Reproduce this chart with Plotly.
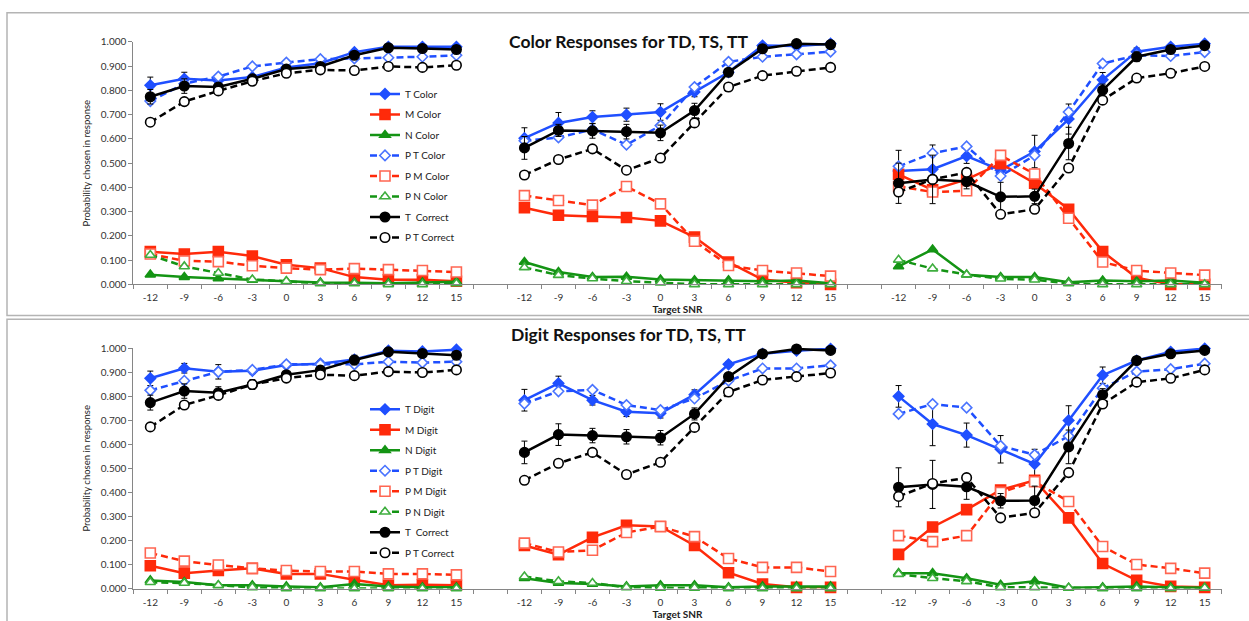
import plotly.graph_objects as go

# Target SNR levels, repeated for the three conditions TD, TS, TT
SNR = [-12, -9, -6, -3, 0, 3, 6, 9, 12, 15]
CONDITIONS = ["TD", "TS", "TT"]

# ---- Color responses (one list per condition: TD, TS, TT) ----
COLOR_T = [
    [0.821, 0.848, 0.841, 0.855, 0.895, 0.912, 0.958, 0.980, 0.980, 0.980],
    [0.603, 0.666, 0.690, 0.700, 0.711, 0.794, 0.875, 0.985, 0.983, 0.993],
    [0.468, 0.475, 0.529, 0.471, 0.548, 0.682, 0.844, 0.960, 0.980, 0.993],
]
COLOR_M = [
    [0.135, 0.125, 0.135, 0.117, 0.081, 0.067, 0.030, 0.019, 0.019, 0.013],
    [0.316, 0.285, 0.280, 0.276, 0.262, 0.195, 0.092, 0.020, 0.007, 0.000],
    [0.454, 0.390, 0.433, 0.498, 0.417, 0.310, 0.135, 0.027, 0.000, 0.000],
]
COLOR_N = [
    [0.040, 0.030, 0.024, 0.018, 0.013, 0.008, 0.007, 0.005, 0.008, 0.011],
    [0.092, 0.051, 0.030, 0.031, 0.020, 0.017, 0.017, 0.013, 0.016, 0.005],
    [0.074, 0.144, 0.040, 0.030, 0.030, 0.009, 0.016, 0.013, 0.016, 0.007],
]
COLOR_PT = [
    [0.756, 0.828, 0.857, 0.899, 0.915, 0.929, 0.932, 0.935, 0.939, 0.945],
    [0.592, 0.606, 0.639, 0.576, 0.655, 0.814, 0.918, 0.939, 0.949, 0.960],
    [0.487, 0.541, 0.569, 0.447, 0.532, 0.711, 0.911, 0.945, 0.942, 0.958],
]
COLOR_PM = [
    [0.125, 0.097, 0.094, 0.077, 0.067, 0.061, 0.065, 0.061, 0.057, 0.051],
    [0.366, 0.346, 0.327, 0.404, 0.332, 0.178, 0.078, 0.057, 0.047, 0.034],
    [0.404, 0.381, 0.386, 0.532, 0.455, 0.273, 0.092, 0.057, 0.047, 0.038],
]
COLOR_PN = [
    [0.121, 0.074, 0.047, 0.020, 0.013, 0.004, 0.004, 0.000, 0.000, 0.004],
    [0.070, 0.038, 0.024, 0.013, 0.007, 0.000, 0.000, 0.000, 0.000, 0.000],
    [0.101, 0.065, 0.040, 0.023, 0.019, 0.004, 0.000, 0.000, 0.000, 0.000],
]
COLOR_C = [
    [0.774, 0.818, 0.814, 0.848, 0.888, 0.899, 0.945, 0.976, 0.973, 0.969],
    [0.563, 0.635, 0.633, 0.630, 0.625, 0.717, 0.875, 0.972, 0.993, 0.989],
    [0.417, 0.433, 0.424, 0.361, 0.363, 0.581, 0.801, 0.939, 0.969, 0.985],
]
COLOR_PC = [
    [0.669, 0.754, 0.798, 0.838, 0.871, 0.885, 0.882, 0.899, 0.895, 0.904],
    [0.451, 0.515, 0.559, 0.471, 0.521, 0.666, 0.814, 0.861, 0.879, 0.895],
    [0.381, 0.433, 0.462, 0.289, 0.310, 0.480, 0.760, 0.851, 0.871, 0.899],
]
COLOR_T_ERR = [
    [0.034, 0.027, 0.012, 0.010, 0.010, 0.010, 0.008, 0.006, 0.006, 0.006],
    [0.043, 0.043, 0.026, 0.027, 0.034, 0.020, 0.012, 0.008, 0.006, 0.005],
    [0.085, 0.100, 0.030, 0.030, 0.067, 0.062, 0.030, 0.015, 0.008, 0.006],
]
COLOR_C_ERR = [
    [0.030, 0.030, 0.012, 0.012, 0.010, 0.010, 0.010, 0.007, 0.007, 0.007],
    [0.047, 0.025, 0.030, 0.030, 0.032, 0.030, 0.012, 0.008, 0.006, 0.006],
    [0.083, 0.100, 0.030, 0.060, 0.030, 0.067, 0.025, 0.020, 0.010, 0.008],
]

# ---- Digit responses ----
DIGIT_T = [
    [0.874, 0.916, 0.901, 0.905, 0.929, 0.935, 0.952, 0.989, 0.986, 0.993],
    [0.783, 0.853, 0.783, 0.735, 0.729, 0.806, 0.932, 0.976, 0.989, 0.997],
    [0.799, 0.684, 0.638, 0.579, 0.518, 0.699, 0.887, 0.948, 0.984, 0.998],
]
DIGIT_M = [
    [0.095, 0.064, 0.075, 0.084, 0.061, 0.061, 0.037, 0.014, 0.016, 0.014],
    [0.179, 0.141, 0.213, 0.263, 0.258, 0.179, 0.066, 0.019, 0.005, 0.005],
    [0.142, 0.256, 0.328, 0.410, 0.450, 0.294, 0.104, 0.034, 0.009, 0.005],
]
DIGIT_N = [
    [0.034, 0.027, 0.014, 0.014, 0.009, 0.005, 0.019, 0.009, 0.005, 0.005],
    [0.043, 0.023, 0.019, 0.009, 0.014, 0.014, 0.005, 0.009, 0.009, 0.009],
    [0.064, 0.064, 0.043, 0.016, 0.030, 0.003, 0.005, 0.009, 0.005, 0.003],
]
DIGIT_PT = [
    [0.824, 0.864, 0.901, 0.909, 0.932, 0.932, 0.932, 0.943, 0.939, 0.943],
    [0.769, 0.820, 0.826, 0.763, 0.742, 0.790, 0.864, 0.915, 0.915, 0.928],
    [0.726, 0.767, 0.752, 0.593, 0.556, 0.634, 0.833, 0.902, 0.912, 0.935],
]
DIGIT_PM = [
    [0.148, 0.114, 0.098, 0.084, 0.075, 0.071, 0.071, 0.061, 0.061, 0.057],
    [0.189, 0.152, 0.159, 0.233, 0.258, 0.216, 0.125, 0.088, 0.088, 0.071],
    [0.220, 0.195, 0.220, 0.400, 0.444, 0.362, 0.175, 0.100, 0.084, 0.064],
]
DIGIT_PN = [
    [0.026, 0.023, 0.014, 0.005, 0.000, 0.000, 0.000, 0.000, 0.000, 0.000],
    [0.050, 0.030, 0.023, 0.005, 0.003, 0.003, 0.000, 0.000, 0.000, 0.000],
    [0.060, 0.043, 0.030, 0.005, 0.005, 0.003, 0.000, 0.000, 0.000, 0.003],
]
DIGIT_C = [
    [0.773, 0.821, 0.814, 0.848, 0.889, 0.908, 0.950, 0.984, 0.977, 0.970],
    [0.566, 0.640, 0.636, 0.631, 0.627, 0.726, 0.881, 0.976, 0.996, 0.990],
    [0.421, 0.433, 0.423, 0.365, 0.366, 0.589, 0.806, 0.948, 0.976, 0.990],
]
DIGIT_PC = [
    [0.672, 0.763, 0.803, 0.848, 0.875, 0.889, 0.885, 0.902, 0.898, 0.909],
    [0.450, 0.521, 0.566, 0.474, 0.525, 0.670, 0.817, 0.867, 0.881, 0.896],
    [0.383, 0.437, 0.461, 0.294, 0.315, 0.482, 0.767, 0.858, 0.874, 0.909],
]
DIGIT_T_ERR = [
    [0.030, 0.020, 0.030, 0.012, 0.010, 0.010, 0.010, 0.006, 0.006, 0.006],
    [0.045, 0.030, 0.020, 0.020, 0.020, 0.020, 0.012, 0.008, 0.006, 0.005],
    [0.045, 0.090, 0.050, 0.057, 0.061, 0.061, 0.034, 0.015, 0.008, 0.006],
]
DIGIT_C_ERR = [
    [0.031, 0.030, 0.025, 0.020, 0.010, 0.010, 0.020, 0.008, 0.008, 0.008],
    [0.047, 0.045, 0.030, 0.030, 0.030, 0.025, 0.015, 0.008, 0.006, 0.006],
    [0.081, 0.100, 0.052, 0.030, 0.060, 0.070, 0.025, 0.015, 0.010, 0.010],
]

FONT = "Lato"
BLUE, RED, GREEN, BLACK = "#1f4fff", "#ff2a0a", "#149414", "#000000"
LBLUE, LRED, LGREEN = "#4a74ff", "#ff6652", "#3fae3f"
AXIS_GRAY = "#868686"

W, H = 1249, 621
X_LEFT, X_RIGHT = 133.3, 1221.7
GAP = 11  # ten SNR slots plus one empty slot between conditions


def flat_x():
    xs = []
    for g in range(len(CONDITIONS)):
        xs += [g * GAP + i for i in range(len(SNR))] + [None]
    return xs[:-1]


def flat_y(groups):
    ys = []
    for grp in groups:
        ys += list(grp) + [None]
    return ys[:-1]


def py(p):
    return 1 - p / H


fig = go.Figure()

panels = [
    dict(label="Color", ax="", leg="legend",
         series=[COLOR_T, COLOR_M, COLOR_N, COLOR_PT, COLOR_PM, COLOR_PN, COLOR_C, COLOR_PC],
         errs={0: COLOR_T_ERR, 6: COLOR_C_ERR}),
    dict(label="Digit", ax="2", leg="legend2",
         series=[DIGIT_T, DIGIT_M, DIGIT_N, DIGIT_PT, DIGIT_PM, DIGIT_PN, DIGIT_C, DIGIT_PC],
         errs={0: DIGIT_T_ERR, 6: DIGIT_C_ERR}),
]

# name template, line colour, dash, marker symbol, fill, edge, size
styles = [
    ("T {}", BLUE, "solid", "diamond", BLUE, BLUE, 8),
    ("M {}", RED, "solid", "square", RED, RED, 10),
    ("N {}", GREEN, "solid", "triangle-up", GREEN, GREEN, 9),
    ("P T {}", BLUE, "7px,4px", "diamond", "white", LBLUE, 8),
    ("P M {}", RED, "7px,4px", "square", "white", LRED, 10),
    ("P N {}", GREEN, "7px,4px", "triangle-up", "white", LGREEN, 9),
    ("T  Correct", BLACK, "solid", "circle", BLACK, BLACK, 9.5),
    ("P T Correct", BLACK, "7px,4px", "circle", "white", BLACK, 9.5),
]

xs = flat_x()
for panel in panels:
    for k, (name, lc, dash, sym, fill, edge, size) in enumerate(styles):
        err = panel["errs"].get(k)
        label = name.format(panel["label"]) if "{}" in name else name
        fig.add_trace(go.Scatter(
            x=xs, y=flat_y(panel["series"][k]),
            xaxis="x" + panel["ax"], yaxis="y" + panel["ax"],
            mode="lines+markers",
            name=label,
            legend=panel["leg"],
            legendgroup=panel["label"] + str(k),
            line=dict(color=lc, width=2.5, dash=dash),
            marker=dict(symbol=sym, size=size, color=fill,
                        line=dict(color=edge, width=1.6)),
            error_y=dict(type="data", array=flat_y(err), color="#000000",
                         thickness=1, width=3, visible=True) if err else None,
            cliponaxis=False,
        ))

tickvals = [g * GAP + i for g in range(len(CONDITIONS)) for i in range(len(SNR))]
ticktext = [str(s) for _ in CONDITIONS for s in SNR]

xaxis_common = dict(
    range=[-0.5, 31.5], showgrid=False, zeroline=False,
    showline=True, linecolor=AXIS_GRAY, linewidth=1,
    tickvals=tickvals, ticktext=ticktext,
    ticks="outside", ticklen=4, tickcolor="rgba(0,0,0,0)",
    tickfont=dict(family=FONT, size=10, color="#333333"),
    minor=dict(tick0=-0.5, dtick=1, ticks="outside", ticklen=4,
               tickcolor=AXIS_GRAY, tickwidth=1),
    title=dict(text="<b>Target SNR</b>", font=dict(family=FONT, size=10, color="#222222"),
               standoff=2),
    domain=[X_LEFT / W, X_RIGHT / W],
)
yaxis_common = dict(
    range=[0, 1.0], dtick=0.1, tickformat=".3f", showgrid=False, zeroline=False,
    showline=True, linecolor=AXIS_GRAY, linewidth=1,
    ticks="outside", ticklen=4, tickcolor=AXIS_GRAY,
    tickfont=dict(family=FONT, size=10, color="#333333"),
    title=dict(text="Probability chosen in response",
               font=dict(family=FONT, size=9.5, color="#222222"), standoff=8),
)

legend_common = dict(
    xanchor="left", yanchor="top", bgcolor="rgba(0,0,0,0)",
    font=dict(family=FONT, size=10, color="#222222"),
    traceorder="grouped", tracegroupgap=1.5, itemwidth=30,
)

fig.update_layout(
    width=W, height=H,
    margin=dict(l=0, r=0, t=0, b=0),
    paper_bgcolor="white", plot_bgcolor="white",
    xaxis=dict(**xaxis_common, anchor="y"),
    yaxis=dict(**yaxis_common, anchor="x", domain=[py(283.3), py(35.7)]),
    xaxis2=dict(**xaxis_common, anchor="y2"),
    yaxis2=dict(**yaxis_common, anchor="x2", domain=[py(594.0), py(348.3)]),
    legend=dict(**legend_common, x=365 / W, y=py(74)),
    legend2=dict(**legend_common, x=365 / W, y=py(396)),
    annotations=[
        dict(text="<b>Color Responses for TD, TS, TT</b>", x=628 / W, y=py(22),
             xref="paper", yref="paper", showarrow=False,
             font=dict(family=FONT, size=17.5, color="#111111")),
        dict(text="<b>Digit Responses for TD, TS, TT</b>", x=628 / W, y=py(334),
             xref="paper", yref="paper", showarrow=False,
             font=dict(family=FONT, size=17.5, color="#111111")),
    ],
    shapes=[
        dict(type="rect", xref="paper", yref="paper",
             x0=7 / W, x1=1.02, y0=py(315), y1=py(6),
             line=dict(color="#b4b4b4", width=1.5)),
        dict(type="rect", xref="paper", yref="paper",
             x0=7 / W, x1=1.02, y0=-0.02, y1=py(319),
             line=dict(color="#b4b4b4", width=1.5)),
    ],
    showlegend=True,
)

fig.write_html("out.html")
